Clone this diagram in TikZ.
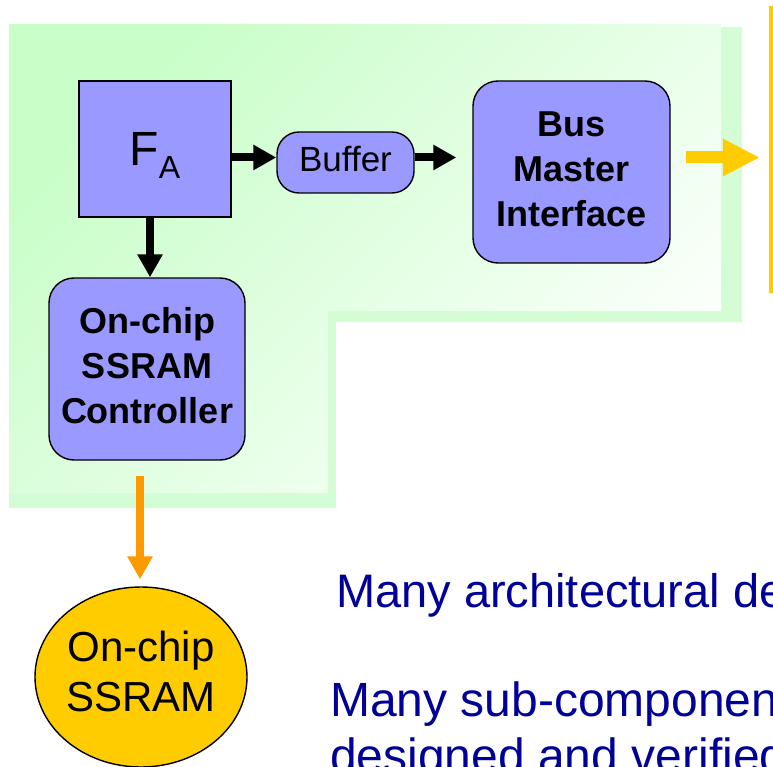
\documentclass[tikz,border=0pt]{standalone}
\usepackage{fontspec}
\setmainfont{Liberation Sans}
\usetikzlibrary{arrows.meta,shapes.geometric,calc}
\definecolor{boxblue}{HTML}{9999FF}
\definecolor{greenback}{HTML}{D5FDD5}
\definecolor{greentop}{HTML}{C8FEC8}
\definecolor{greenlow}{HTML}{FCFFFC}
\definecolor{sramyellow}{HTML}{FFCC00}
\definecolor{linkorange}{HTML}{FF9900}
\definecolor{notenavy}{HTML}{000099}
\begin{document}
\begin{tikzpicture}[x=1pt,y=-1pt,
  box/.style={draw=black, line width=1.4pt, fill=boxblue, inner sep=0pt, align=center},
  roundbox/.style={box, rounded corners=25pt},
  bigbold/.style={font=\fontsize{36}{45}\selectfont\bfseries},
  blkarrow/.style={line width=8pt, -{Triangle[length=23pt,width=24pt]}},
  orgarrow/.style={draw=linkorange, line width=8pt, -{Triangle[length=23pt,width=24pt]}},
  ylwarrow/.style={draw=sramyellow, line width=12pt, -{Triangle[length=37pt,width=35pt]}},
  note/.style={anchor=base west, inner sep=0pt, text=notenavy, font=\fontsize{48}{58}\selectfont}]
\useasboundingbox (0,0) rectangle (773,767);
\clip (0,0) rectangle (773,767);

% L-shaped module area: flat backing plus gradient face
\fill[greenback] (9,27) -- (742,27) -- (742,322) -- (336,322) -- (336,508) -- (9,508) -- cycle;
\shade[top color=greentop, bottom color=greenlow, shading angle=45]
  (9,24) -- (721,24) -- (721,311) -- (328,311) -- (328,493) -- (9,493) -- cycle;

% blocks
\node[box, minimum width=152pt, minimum height=136pt, text height=34pt, text depth=0pt]
  (fa) at (155,149) {\fontsize{48}{48}\selectfont F\raisebox{-13pt}{\fontsize{32}{32}\selectfont A}};
\node[box, rounded corners=22pt, minimum width=137pt, minimum height=61pt,
  text height=25pt, text depth=6pt, font=\fontsize{35}{42}\selectfont]
  (buf) at (345.5,162.5) {Buffer};
\node[roundbox, bigbold, minimum width=197pt, minimum height=182pt, text depth=6pt]
  (bmi) at (571.5,172) {Bus\\Master\\Interface};
\node[roundbox, bigbold, minimum width=196pt, minimum height=182pt, text depth=8pt]
  (ctrl) at (147,369) {On-chip\\SSRAM\\Controller};
\node[ellipse, draw=black, line width=1.4pt, fill=sramyellow, inner sep=0pt, align=center,
  minimum width=212pt, minimum height=180pt, text depth=11pt,
  font=\fontsize{42}{50}\selectfont]
  (sram) at (141,677) {On-chip\\SSRAM};
\node[fill=sramyellow, inner sep=0pt, minimum width=4pt, minimum height=287pt] (bus) at (771,149.5) {};

% connectors
\coordinate (row) at (0,157.5);
\draw[blkarrow] (fa.east |- row) -- (buf.west |- row);
\draw[blkarrow, shorten >=16pt] (buf.east |- row) -- (bmi.west |- row);
\draw[blkarrow] (fa.south -| 150,0) -- (ctrl.north -| 150,0);
\draw[orgarrow, shorten <=15pt, shorten >=7pt] (ctrl.south -| 140,0) -- (sram.north -| 140,0);
\draw[ylwarrow, shorten <=15pt, shorten >=9pt] (bmi.east |- row) -- (bus.west |- row);

% notes
\node[note, font=\fontsize{47}{56}\selectfont] (n1) at (336,607) {Many architectural de};
\node[note] (n2) at (330,716) {Many sub-componen};
\node[note] (n3) at (330,772) {designed and verified};
\end{tikzpicture}
\end{document}
